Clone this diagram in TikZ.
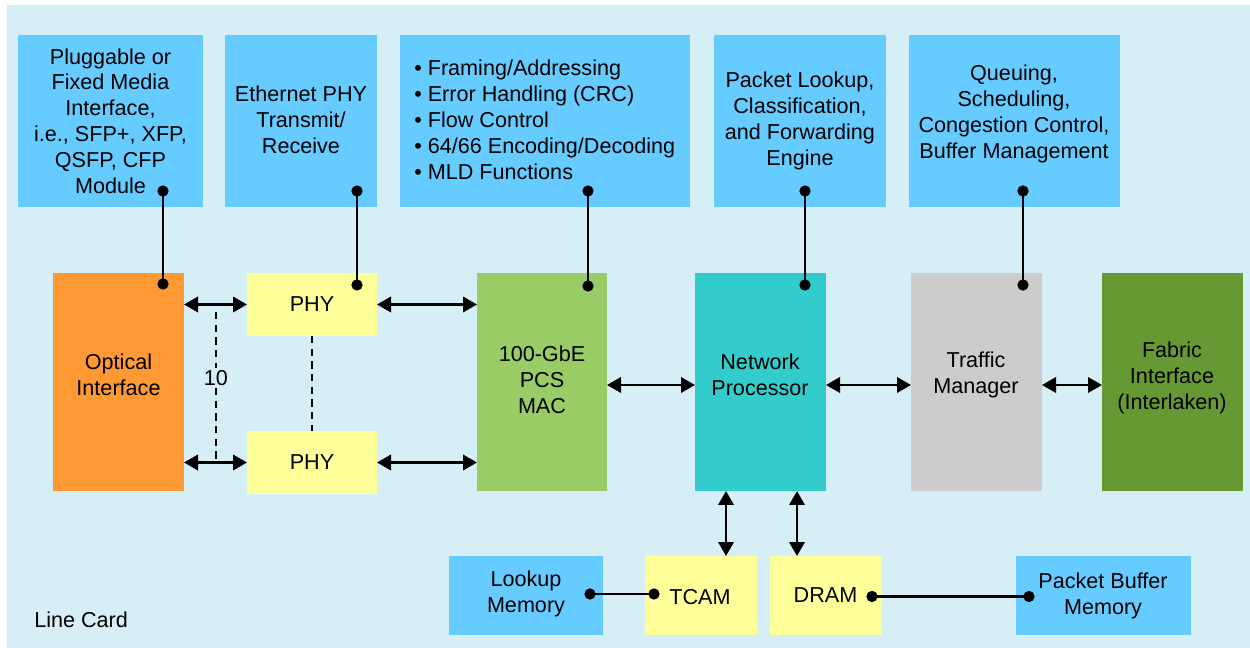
\documentclass[tikz,border=0pt]{standalone}
\usepackage{fontspec}
\setmainfont{Liberation Sans}
\usetikzlibrary{arrows.meta,fit,calc}
\definecolor{bgc}{HTML}{D6EEF5}
\definecolor{blu}{HTML}{66CCFF}
\definecolor{org}{HTML}{FF9933}
\definecolor{yel}{HTML}{FFFF99}
\definecolor{lgr}{HTML}{99CC66}
\definecolor{tea}{HTML}{33CCCC}
\definecolor{gry}{HTML}{CCCCCC}
\definecolor{dgr}{HTML}{669933}
\tikzset{
  blk/.style={inner sep=0pt, outer sep=0pt, draw=none},
  txt/.style={font=\fontsize{16.2}{19.4}\selectfont, align=center, inner sep=0pt, text=black},
  dar/.style={{Triangle[length=10.5pt,width=11.5pt]}-{Triangle[length=10.5pt,width=11.5pt]}, line width=1.9pt},
  con/.style={line width=1.7pt},
  dot/.style={circle, fill=black, inner sep=0pt, minimum size=8.5pt},
  dsh/.style={dash pattern=on 5.5pt off 4pt, line width=1.6pt}
}
\begin{document}
\begin{tikzpicture}[x=0.75pt,y=-0.75pt]
\useasboundingbox (0,0) rectangle (1250,648);
\fill[bgc] (7,5) rectangle (1250,648);

% top boxes
\node[blk, fill=blu, fit={(18,35) (203,207)}] (b1) {};
\node[blk, fill=blu, fit={(225,35) (377,207)}] (b2) {};
\node[blk, fill=blu, fit={(400,35) (690,207)}] (b3) {};
\node[blk, fill=blu, fit={(714,35) (886,207)}] (b4) {};
\node[blk, fill=blu, fit={(909,35) (1120,207)}] (b5) {};

% middle boxes
\node[blk, fill=org, fit={(53,273) (184,491)}] (oi) {};
\node[blk, fill=yel, fit={(247,273) (377,336)}] (phy1) {};
\node[blk, fill=yel, fit={(247,431) (377,494)}] (phy2) {};
\node[blk, fill=lgr, fit={(477,273) (607,491)}] (mac) {};
\node[blk, fill=tea, fit={(695,273) (826,491)}] (np) {};
\node[blk, fill=gry, fit={(911,273) (1042,491)}] (tm) {};
\node[blk, fill=dgr, fit={(1102,273) (1243,491)}] (fi) {};

% bottom boxes
\node[blk, fill=blu, fit={(449,556) (603,635)}] (lm) {};
\node[blk, fill=yel, fit={(645,556) (757,635)}] (tcam) {};
\node[blk, fill=yel, fit={(770,556) (882,635)}] (dram) {};
\node[blk, fill=blu, fit={(1016,556) (1191,635)}] (pbm) {};

% texts
\node[txt] at (110.5,121) {Pluggable or\\Fixed Media\\Interface,\\i.e., SFP+, XFP,\\QSFP, CFP\\Module};
\node[txt] at (301,120) {Ethernet PHY\\Transmit/\\Receive};
\node[txt, align=left, anchor=west] at (414,120) {\textbullet\ Framing/Addressing\\\textbullet\ Error Handling (CRC)\\\textbullet\ Flow Control\\\textbullet\ 64/66 Encoding/Decoding\\\textbullet\ MLD Functions};
\node[txt] at (800,121) {Packet Lookup,\\Classification,\\and Forwarding\\Engine};
\node[txt] at (1014,114) {Queuing,\\Scheduling,\\Congestion Control,\\Buffer Management};
\node[txt] at (118.5,375) {Optical\\Interface};
\node[txt] at (312,304) {PHY};
\node[txt] at (312,462) {PHY};
\node[txt] at (542,380) {100-GbE\\PCS\\MAC};
\node[txt] at (760,375) {Network\\Processor};
\node[txt] at (976,375) {Traffic\\Manager};
\node[txt] at (1172,378) {Fabric\\Interface\\(Interlaken)};
\node[txt] at (526,594) {Lookup\\Memory};
\node[txt] at (700,597) {TCAM};
\node[txt] at (825.5,595) {DRAM};
\node[txt] at (1103,596) {Packet Buffer\\Memory};
\node[txt, anchor=west] at (34,620) {Line Card};

% vertical dot connectors
\node[dot] (d1a) at (163,191) {};
\node[dot] (d1b) at (163,284) {};
\node[dot] (d2a) at (357,191) {};
\node[dot] (d2b) at (357,285) {};
\node[dot] (d3a) at (588,191) {};
\node[dot] (d3b) at (588,286) {};
\node[dot] (d4a) at (805,191) {};
\node[dot] (d4b) at (805,285) {};
\node[dot] (d5a) at (1023,191) {};
\node[dot] (d5b) at (1023,285) {};
\draw[con] (d1a.center) -- (d1b.center);
\draw[con] (d2a.center) -- (d2b.center);
\draw[con] (d3a.center) -- (d3b.center);
\draw[con] (d4a.center) -- (d4b.center);
\draw[con] (d5a.center) -- (d5b.center);

% horizontal dot connectors
\node[dot] (l1) at (590,594) {};
\node[dot] (l2) at (654,594) {};
\node[dot] (p1) at (872,596.5) {};
\node[dot] (p2) at (1029,596.5) {};
\draw[con] (l1.center) -- (l2.center);
\draw[con] (p1.center) -- (p2.center);

% double arrows
\draw[dar] (oi.east |- phy1.west) -- (phy1.west);
\draw[dar] (oi.east |- phy2.west) -- (phy2.west);
\draw[dar] (phy1.east) -- (phy1.east -| mac.west);
\draw[dar] (phy2.east) -- (phy2.east -| mac.west);
\coordinate (m1) at ($(mac.east)+(0,3)$);
\draw[dar] (m1) -- (m1 -| np.west);
\coordinate (m2) at ($(np.east)+(0,3)$);
\draw[dar] (m2) -- (m2 -| tm.west);
\coordinate (m3) at ($(tm.east)+(0,3)$);
\draw[dar] (m3) -- (m3 -| fi.west);
\coordinate (v1) at ($(tcam.north)+(25,0)$);
\draw[dar] (v1 |- np.south) -- (v1);
\coordinate (v2) at ($(dram.north)+(-29,0)$);
\draw[dar] (v2 |- np.south) -- (v2);

% dashed lines
\coordinate (q1) at (216,312);
\coordinate (q2) at (216,460);
\draw[dsh] (q1) -- (q2);
\node[txt, fill=bgc, inner ysep=2pt, inner xsep=1pt] (ten) at (216,378) {10};
\draw[dsh] (phy1.south) -- (phy2.north);
\end{tikzpicture}
\end{document}
